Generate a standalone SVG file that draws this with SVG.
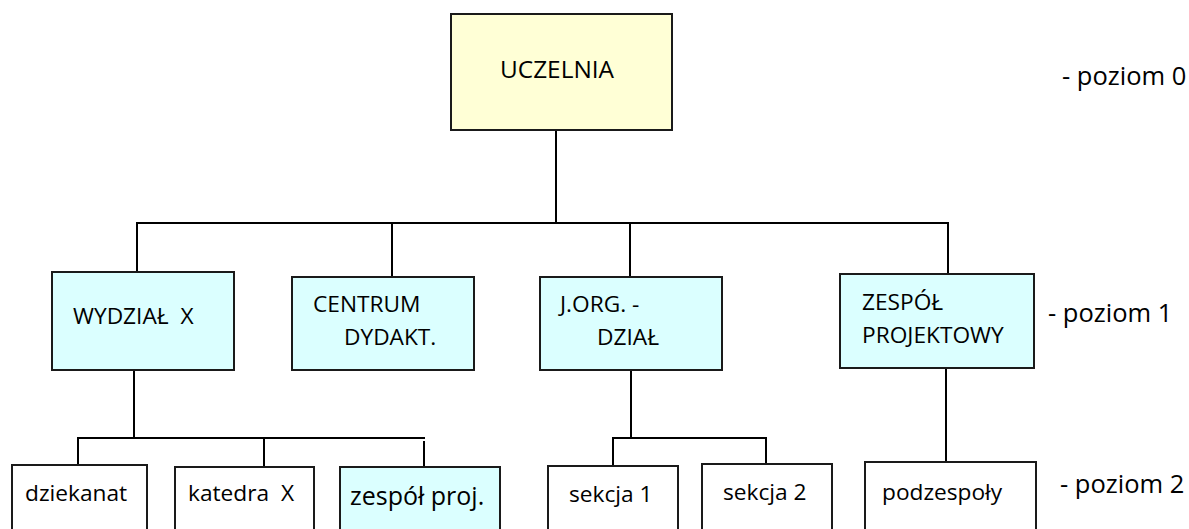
<svg xmlns="http://www.w3.org/2000/svg" width="1189" height="529" viewBox="0 0 1189 529">
<style>
  .box{stroke:#1a1a1a;stroke-width:2}
  .y{fill:#FFFFD6}
  .c{fill:#DBFFFF}
  .w{fill:#FFFFFF}
  .t{font-family:"Open Sans","Noto Sans","Liberation Sans",sans-serif;font-size:22.7px;fill:#000;white-space:pre}
  .lvl{font-size:25.5px}
  .conn line{stroke:#000;stroke-width:2;stroke-linecap:square}
</style>
<rect width="1189" height="529" fill="#fff"/>
<g id="connectors" class="conn">
  <line x1="556" y1="131" x2="556" y2="223"/>
  <line x1="137" y1="223" x2="948" y2="223"/>
  <line x1="137" y1="223" x2="137" y2="271"/>
  <line x1="392" y1="223" x2="392" y2="276"/>
  <line x1="630" y1="223" x2="630" y2="276"/>
  <line x1="948" y1="223" x2="948" y2="273"/>
  <line x1="134" y1="371" x2="134" y2="438"/>
  <line x1="78" y1="438" x2="424" y2="438"/>
  <line x1="78" y1="438" x2="78" y2="464"/>
  <line x1="264" y1="438" x2="264" y2="466"/>
  <line x1="424" y1="442" x2="424" y2="466"/>
  <line x1="631" y1="371" x2="631" y2="438"/>
  <line x1="613" y1="438" x2="766" y2="438"/>
  <line x1="613" y1="438" x2="613" y2="464"/>
  <line x1="766" y1="438" x2="766" y2="463"/>
  <line x1="946" y1="369" x2="946" y2="461"/>
</g>
<g id="uczelnia">
  <rect class="box y" x="451" y="14" width="221" height="116"/>
  <text class="t" x="500" y="77.7" style="font-size:24.4px">UCZELNIA</text>
</g>
<g id="wydzial">
  <rect class="box c" x="52" y="272" width="182" height="98"/>
  <text class="t" x="73" y="324">WYDZIAŁ  X</text>
</g>
<g id="centrum">
  <rect class="box c" x="292" y="277" width="182" height="93"/>
  <text class="t" x="313" y="312">CENTRUM</text>
  <text class="t" x="344" y="345">DYDAKT.</text>
</g>
<g id="jorg">
  <rect class="box c" x="540" y="277" width="182" height="93"/>
  <text class="t" x="560" y="311.7">J.ORG. -</text>
  <text class="t" x="597" y="345">DZIAŁ</text>
</g>
<g id="zespol">
  <rect class="box c" x="840" y="274" width="194" height="94"/>
  <text class="t" x="862" y="310">ZESPÓŁ</text>
  <text class="t" x="862" y="343.3">PROJEKTOWY</text>
</g>
<g id="dziekanat">
  <rect class="box w" x="12" y="465" width="135" height="80"/>
  <text class="t" x="25" y="500.7">dziekanat</text>
</g>
<g id="katedra">
  <rect class="box w" x="175" y="467" width="139" height="80"/>
  <text class="t" x="188" y="500.7">katedra  X</text>
</g>
<g id="zespol-proj">
  <rect class="box c" x="340" y="467" width="160" height="80"/>
  <text class="t" x="350" y="505" style="font-size:25px">zespół proj.</text>
</g>
<g id="sekcja1">
  <rect class="box w" x="548" y="466" width="130" height="80"/>
  <text class="t" x="569" y="501.7">sekcja 1</text>
</g>
<g id="sekcja2">
  <rect class="box w" x="702" y="464" width="130" height="80"/>
  <text class="t" x="723" y="500">sekcja 2</text>
</g>
<g id="podzespoly">
  <rect class="box w" x="865" y="462" width="171" height="80"/>
  <text class="t" x="882" y="500">podzespoły</text>
</g>
<g id="levels">
  <text class="t lvl" x="1062" y="85">- poziom 0</text>
  <text class="t lvl" x="1048" y="321.7">- poziom 1</text>
  <text class="t lvl" x="1060" y="493.3">- poziom 2</text>
</g>
</svg>
